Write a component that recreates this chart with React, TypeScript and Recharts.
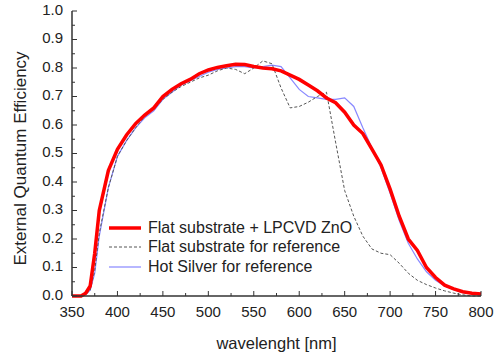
import React from "react";
import { LineChart, Line, XAxis, YAxis, Legend } from "recharts";

const wavelength = [
  350, 360, 365, 370, 375, 380, 390, 400, 410, 420, 430, 440, 450, 460, 470, 480, 490, 500, 510, 520,
  530, 540, 550, 560, 570, 580, 590, 600, 610, 620, 630, 640, 650, 660, 670, 680, 690, 700, 710, 720,
  730, 740, 750, 760, 770, 780, 790, 800,
];

const lpcvd = [
  0.0, 0.0, 0.01, 0.035, 0.15, 0.3, 0.44, 0.515, 0.565, 0.605, 0.635, 0.66, 0.7, 0.725, 0.745, 0.76, 0.78,
  0.793, 0.802, 0.808, 0.813, 0.812, 0.805, 0.8, 0.797, 0.79, 0.775, 0.76, 0.74, 0.72, 0.695, 0.678,
  0.645, 0.6, 0.57, 0.515, 0.46, 0.375, 0.28, 0.2, 0.16, 0.1, 0.065, 0.038, 0.025, 0.015, 0.01, 0.007,
];

const flatRef = [
  0.0, 0.0, 0.005, 0.02, 0.09, 0.22, 0.38, 0.49, 0.545, 0.59, 0.63, 0.655, 0.69, 0.715, 0.735, 0.75, 0.765,
  0.775, 0.79, 0.8, 0.795, 0.78, 0.8, 0.825, 0.815, 0.73, 0.66, 0.665, 0.68, 0.7, 0.715, 0.54,
  0.37, 0.28, 0.21, 0.165, 0.15, 0.145, 0.115, 0.08, 0.055, 0.04, 0.028, 0.018, 0.01, 0.004, 0.0, 0.0,
];

const hotSilver = [
  0.0, 0.0, 0.005, 0.02, 0.08, 0.21, 0.38, 0.49, 0.545, 0.59, 0.625, 0.65, 0.69, 0.715, 0.74, 0.755, 0.77,
  0.785, 0.795, 0.8, 0.805, 0.805, 0.8, 0.805, 0.81, 0.805, 0.765, 0.725, 0.7, 0.695, 0.69, 0.69,
  0.695, 0.665, 0.59, 0.52, 0.45, 0.36, 0.265, 0.185, 0.13, 0.085, 0.055, 0.035, 0.022, 0.012, 0.008, 0.006,
];

const xTicks = [
  350, 375, 400, 425, 450, 475, 500, 525, 550, 575, 600, 625, 650, 675, 700, 725, 750, 775, 800,
];
const yTicks = [
  0, 0.05, 0.1, 0.15, 0.2, 0.25, 0.3, 0.35, 0.4, 0.45, 0.5, 0.55, 0.6, 0.65, 0.7, 0.75, 0.8, 0.85, 0.9,
  0.95, 1.0,
];

const data = wavelength.map((w, i) => ({
  w,
  lpcvd: lpcvd[i],
  flatRef: flatRef[i],
  hotSilver: hotSilver[i],
}));

const series = [
  { name: "Flat substrate + LPCVD ZnO", color: "#ff0000", width: 3.5, dash: undefined },
  { name: "Flat substrate for reference", color: "#555555", width: 1, dash: "3 2" },
  { name: "Hot Silver for reference", color: "#8888ff", width: 1.2, dash: undefined },
];

const FONT = "'Liberation Sans', Arial, sans-serif";
const TEXT = "#222";
const AXIS = "#333";

const isMajorX = (v: number) => v % 50 === 0;
const isMajorY = (v: number) => Math.round(v * 100) % 10 === 0;

const BottomTick = (props: any) => {
  const { x, y, payload } = props;
  const major = isMajorX(payload.value);
  return (
    <g>
      <line x1={x} y1={y} x2={x} y2={y - (major ? 5 : 3)} stroke={AXIS} strokeWidth={1} />
      {major && (
        <text x={x} y={y + 17} textAnchor="middle" dominantBaseline="middle" fontSize={15} fontFamily={FONT} fill={TEXT}>
          {payload.value}
        </text>
      )}
    </g>
  );
};

const TopTick = (props: any) => {
  const { x, y, payload } = props;
  const major = isMajorX(payload.value);
  return <line x1={x} y1={y} x2={x} y2={y + (major ? 5 : 3)} stroke={AXIS} strokeWidth={1} />;
};

const LeftTick = (props: any) => {
  const { x, y, payload } = props;
  const major = isMajorY(payload.value);
  return (
    <g>
      <line x1={x} y1={y} x2={x + (major ? 5 : 3)} y2={y} stroke={AXIS} strokeWidth={1} />
      {major && (
        <text x={x - 9} y={y} textAnchor="end" dominantBaseline="middle" fontSize={15} fontFamily={FONT} fill={TEXT}>
          {payload.value.toFixed(1)}
        </text>
      )}
    </g>
  );
};

const RightTick = (props: any) => {
  const { x, y, payload } = props;
  const major = isMajorY(payload.value);
  return <line x1={x} y1={y} x2={x - (major ? 5 : 3)} y2={y} stroke={AXIS} strokeWidth={1} />;
};

const LegendBox = () => (
  <div style={{ fontFamily: FONT, fontSize: 16, color: TEXT }}>
    {series.map((s) => (
      <div key={s.name} style={{ display: "flex", alignItems: "center", height: 19.5 }}>
        <svg width={38} height={10} style={{ marginRight: 4 }}>
          <line x1={3} y1={5} x2={35} y2={5} stroke={s.color} strokeWidth={s.width} strokeDasharray={s.dash} />
        </svg>
        <span style={{ whiteSpace: "nowrap" }}>{s.name}</span>
      </div>
    ))}
  </div>
);

export default function App() {
  return (
    <div style={{ position: "absolute", left: 0, top: 0, background: "#fff" }}>
      <LineChart width={500} height={356} data={data} margin={{ top: 11, right: 19, bottom: 0, left: 0 }}>
        <XAxis
          dataKey="w"
          type="number"
          domain={[350, 800]}
          ticks={xTicks}
          interval={0}
          height={60}
          tickSize={0}
          tickMargin={0}
          tickLine={false}
          tick={BottomTick}
          axisLine={{ stroke: AXIS, strokeWidth: 1.5 }}
          label={{
            value: "wavelenght [nm]",
            position: "insideBottom",
            offset: 7,
            style: { fontFamily: FONT, fontSize: 16.5, fill: TEXT },
          }}
        />
        <XAxis
          xAxisId="top"
          orientation="top"
          dataKey="w"
          type="number"
          domain={[350, 800]}
          ticks={xTicks}
          interval={0}
          height={0}
          tickSize={0}
          tickMargin={0}
          tickLine={false}
          tick={TopTick}
          axisLine={{ stroke: AXIS, strokeWidth: 1.5 }}
        />
        <YAxis
          type="number"
          domain={[0, 1]}
          ticks={yTicks}
          interval={0}
          width={72}
          tickSize={0}
          tickMargin={0}
          tickLine={false}
          tick={LeftTick}
          axisLine={{ stroke: AXIS, strokeWidth: 1.5 }}
          label={{
            value: "External Quantum Efficiency",
            angle: -90,
            position: "insideLeft",
            offset: 20,
            dy: 5,
            style: { fontFamily: FONT, fontSize: 17, fill: TEXT, textAnchor: "middle" },
          }}
        />
        <YAxis
          yAxisId="right"
          orientation="right"
          type="number"
          domain={[0, 1]}
          ticks={yTicks}
          interval={0}
          width={0}
          tickSize={0}
          tickMargin={0}
          tickLine={false}
          tick={RightTick}
          axisLine={{ stroke: AXIS, strokeWidth: 1.5 }}
        />
        <Line
          dataKey="hotSilver"
          name={series[2].name}
          stroke={series[2].color}
          strokeWidth={series[2].width}
          dot={false}
          isAnimationActive={false}
        />
        <Line
          dataKey="flatRef"
          name={series[1].name}
          stroke={series[1].color}
          strokeWidth={series[1].width}
          strokeDasharray={series[1].dash}
          dot={false}
          isAnimationActive={false}
        />
        <Line
          dataKey="lpcvd"
          name={series[0].name}
          stroke={series[0].color}
          strokeWidth={series[0].width}
          dot={false}
          isAnimationActive={false}
        />
        <Legend
          layout="vertical"
          align="center"
          verticalAlign="middle"
          content={LegendBox}
          wrapperStyle={{ left: 106, top: 218, width: 280 }}
        />
      </LineChart>
    </div>
  );
}
